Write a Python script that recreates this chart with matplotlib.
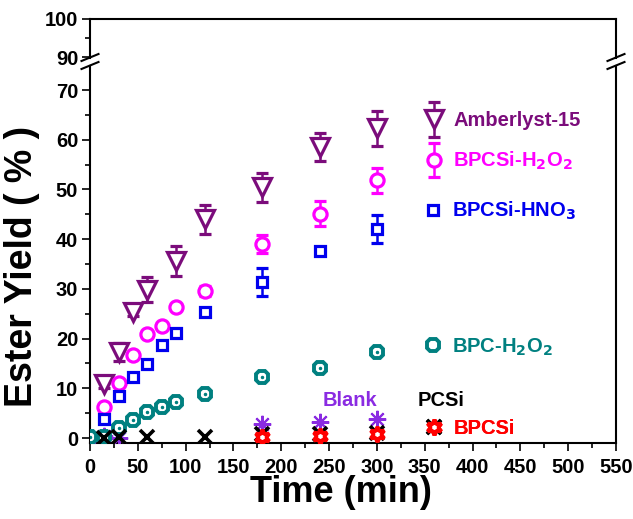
import matplotlib
matplotlib.use("Agg")
import matplotlib.pyplot as plt
from matplotlib.ticker import MultipleLocator
from matplotlib.lines import Line2D
from matplotlib.container import ErrorbarContainer
from matplotlib.legend_handler import HandlerErrorbar, HandlerTuple
from matplotlib.font_manager import FontProperties

# ---------------- data ----------------
t_amb = [15, 30, 45, 60, 90, 120, 180, 240, 300]
y_amb = [10.8, 17.3, 25.4, 29.8, 35.6, 44.0, 50.4, 58.6, 62.3]
e_amb = [0.8, 1.8, 0.8, 2.5, 3.0, 2.9, 3.0, 2.8, 3.5]

t_h2o2 = [15, 30, 45, 60, 75, 90, 120, 180, 240, 300]
y_h2o2 = [6.3, 11.1, 16.7, 21.0, 22.6, 26.4, 29.5, 39.0, 45.1, 51.8]
e_h2o2 = [0.3, 0.3, 0.4, 0.5, 0.4, 0.4, 1.0, 1.8, 2.5, 2.5]

t_hno3 = [15, 30, 45, 60, 75, 90, 120, 180, 240, 300]
y_hno3 = [3.9, 8.4, 12.3, 14.8, 18.8, 21.2, 25.4, 31.4, 37.7, 42.0]
e_hno3 = [0.3, 0.3, 0.3, 0.3, 0.3, 0.3, 0.3, 2.9, 0.6, 2.8]

t_bpc = [0, 15, 30, 45, 60, 75, 90, 120, 180, 240, 300]
y_bpc = [0.2, 0.3, 2.1, 3.7, 5.2, 6.2, 7.2, 8.9, 12.3, 14.1, 17.3]

t_blank = [0, 15, 30, 180, 240, 300]
y_blank = [0.1, 0.5, 0.0, 2.9, 3.2, 3.9]

t_pcsi = [15, 30, 60, 120, 180, 240, 300]
y_pcsi = [0.0, 0.2, 0.2, 0.2, 0.8, 0.8, 1.0]

t_bpcsi = [180, 240, 300]
y_bpcsi = [0.2, 0.5, 0.9]

# ---------------- style ----------------
W, H = 633, 519
C_AMB = "#7B0C7B"
C_H2O2 = "#FF00FF"
C_HNO3 = "#0000EE"
C_BPC = "#008080"
C_BLANK = "#8A2BE2"
C_PCSI = "#000000"
C_BPCSI = "#FF0000"

NARROW = ["Liberation Sans Narrow", "Liberation Sans", "DejaVu Sans"]
plt.rcParams["font.family"] = NARROW
plt.rcParams["font.weight"] = "bold"
plt.rcParams["mathtext.fontset"] = "custom"
plt.rcParams["mathtext.rm"] = "Liberation Sans Narrow:bold"
plt.rcParams["mathtext.it"] = "Liberation Sans Narrow:bold"
plt.rcParams["mathtext.bf"] = "Liberation Sans Narrow:bold"
plt.rcParams["mathtext.default"] = "rm"

fig = plt.figure(figsize=(W / 100, H / 100), dpi=100)

def fx(px):
    return px / W

def fy(py):
    return 1 - py / H

left, right = 90, 616
ax = fig.add_axes([fx(left), fy(443), fx(right) - fx(left), fy(66) - fy(443)])
axt = fig.add_axes([fx(left), fy(58), fx(right) - fx(left), fy(19) - fy(58)], sharex=ax)

ax.set_xlim(0, 550)
ax.set_ylim(-1.0, 74.83)
axt.set_ylim(89.74, 100)

for a in (ax, axt):
    for s in a.spines.values():
        s.set_linewidth(1.5)
    a.tick_params(which="both", direction="out", width=1.2, labelsize=14.5,
                  right=False, top=False)
    a.tick_params(which="major", length=5.5)
    a.tick_params(which="minor", length=3.5)
    a.yaxis.set_minor_locator(MultipleLocator(5))
    a.yaxis.set_major_locator(MultipleLocator(10))

ax.spines["top"].set_visible(False)
axt.spines["bottom"].set_visible(False)
axt.tick_params(axis="x", which="both", bottom=False, labelbottom=False)
ax.xaxis.set_major_locator(MultipleLocator(50))
ax.xaxis.set_minor_locator(MultipleLocator(25))
ax.set_yticks([0, 10, 20, 30, 40, 50, 60, 70])
axt.set_yticks([90, 100])
ax.tick_params(axis="x", pad=5)
ax.tick_params(axis="y", pad=3)
axt.tick_params(axis="y", pad=3)

# break marks
for xc in (left, right):
    for yc in (57.5, 65.5):
        fig.add_artist(Line2D([fx(xc - 8.5), fx(xc + 8.5)], [fy(yc + 3.5), fy(yc - 3.5)],
                              color="black", lw=1.5, transform=fig.transFigure))

# ---------------- data series ----------------
ms_kw = dict(linestyle="none", mfc="white", mew=2.3, capsize=4, capthick=1.8, elinewidth=1.8)
h_amb = ax.errorbar(t_amb, y_amb, yerr=e_amb, fmt="v", ms=12.5, color=C_AMB, mec=C_AMB, ecolor=C_AMB, **ms_kw, zorder=5)
h_h2o2 = ax.errorbar(t_h2o2, y_h2o2, yerr=e_h2o2, fmt="o", ms=9.5, color=C_H2O2, mec=C_H2O2, ecolor=C_H2O2, **ms_kw, zorder=5)
h_hno3 = ax.errorbar(t_hno3, y_hno3, yerr=e_hno3, fmt="s", ms=7.5, color=C_HNO3, mec=C_HNO3, ecolor=C_HNO3, **ms_kw, zorder=5)
h_bpc, = ax.plot(t_bpc, y_bpc, "8", ms=10, color=C_BPC, mfc="white", mec=C_BPC, mew=2.8, linestyle="none", zorder=4)
ax.plot(t_bpc, y_bpc, ".", ms=3, color=C_BPC, linestyle="none", zorder=4)
h_blank, = ax.plot(t_blank, y_blank, marker=(8, 2, 0), ms=12.5, color=C_BLANK, mew=1.5, linestyle="none", zorder=3)
h_pcsi, = ax.plot(t_pcsi, y_pcsi, "x", ms=10, color=C_PCSI, mew=2.6, linestyle="none", zorder=4)
h_bpcsi, = ax.plot(t_bpcsi, y_bpcsi, marker=(6, 1, 0), ms=11, color=C_BPCSI, mfc="white", mec=C_BPCSI, mew=2.8, linestyle="none", zorder=6)

# ---------------- legend-like labels ----------------
lab_fp = FontProperties(family=NARROW, weight="bold", size=14.5)

def add_entry(handle, label, color, px_marker, py, handler_map=None):
    fs_px = 14.5 * 100 / 72
    hl = 1.0
    leg = ax.legend([handle], [label], loc="center left",
                    bbox_to_anchor=(fx(px_marker - hl * fs_px / 2), fy(py)),
                    bbox_transform=fig.transFigure, frameon=False, handlelength=hl,
                    handletextpad=0.45, borderpad=0, borderaxespad=0, prop=lab_fp,
                    handler_map=handler_map, numpoints=1)
    for t in leg.get_texts():
        t.set_color(color)
    ax.add_artist(leg)
    return leg

hm_big = {ErrorbarContainer: HandlerErrorbar(xerr_size=0.85)}
add_entry(h_amb, "Amberlyst-15", C_AMB, 434, 121, hm_big)
add_entry(h_h2o2, "BPCSi-H$_2$O$_2$", C_H2O2, 434, 161, hm_big)
hno3_leg = Line2D([], [], marker="s", ms=7.5, mfc="white", mec=C_HNO3, mew=2.3, linestyle="none")
add_entry(hno3_leg, "BPCSi-HNO$_3$", C_HNO3, 433, 211)
add_entry(h_bpc, "BPC-H$_2$O$_2$", C_BPC, 433, 347)
add_entry((h_pcsi, h_bpcsi), "BPCSi", C_BPCSI, 434, 429, {tuple: HandlerTuple(ndivide=1)})

fig.text(fx(323), fy(400), "Blank", color=C_BLANK, fontproperties=lab_fp, ha="left", va="center")
fig.text(fx(418), fy(400), "PCSi", color=C_PCSI, fontproperties=lab_fp, ha="left", va="center")

# axis labels
fig.text(fx(341), fy(493), "Time (min)", fontsize=26, fontweight="bold", family=NARROW,
         ha="center", va="center")
fig.text(fx(22), fy(266), "Ester Yield ( % )", fontsize=27, fontweight="bold",
         family=["Liberation Sans", "DejaVu Sans"], rotation=90, ha="center", va="center")

fig.savefig("out.png", dpi=100)
